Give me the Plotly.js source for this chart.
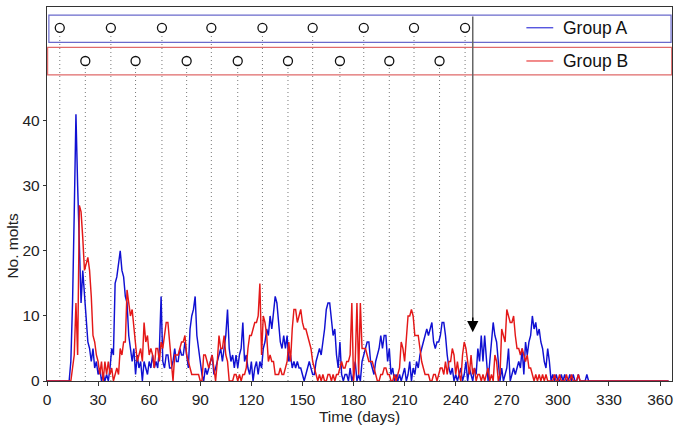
<!DOCTYPE html>
<html>
<head>
<meta charset="utf-8">
<script src="https://cdn.plot.ly/plotly-3.0.1.min.js"></script>
<style>html,body{margin:0;padding:0;background:#fff;}#chart{width:683px;height:433px;}</style>
</head>
<body>
<div id="chart"></div>
<script>
// Daily molt counts, day 0 .. 365
const groupA = [
  0,0,0,0,0,0,0,0,0,0,
  0,0,0,0,3,12,26,41,30,20,
  12,17,13,9,6,5,3,5,2,3,
  1,2,0,1,0,1,0,2,5,4,
  15,16,18,20,17,16,13,12,7,5,
  3,5,1,4,2,3,0,3,2,1,
  3,2,4,2,3,2,5,13,3,2,
  4,4,2,2,3,5,3,3,5,4,
  4,6,4,2,8,10,11,13,7,5,
  3,1,0,2,1,2,3,4,1,2,
  3,4,5,3,5,7,11,5,3,4,
  2,4,2,4,5,9,3,4,2,1,
  3,0,2,3,1,3,2,5,6,8,
  7,10,8,11,13,12,9,6,5,7,
  5,7,3,4,2,3,2,3,2,2,
  1,0,1,2,3,2,1,1,3,4,
  5,4,6,8,11,12,12,9,7,8,
  4,2,6,1,0,1,1,0,2,0,
  1,3,0,1,0,3,4,5,6,6,
  3,2,1,3,4,5,7,5,7,7,
  3,5,1,2,0,1,0,1,0,1,
  2,0,1,3,0,2,1,3,2,4,
  5,6,7,8,7,8,9,6,5,6,
  6,7,9,9,7,4,2,1,2,0,
  1,0,1,2,0,1,3,0,2,1,
  0,2,1,5,3,7,3,7,3,0,
  3,6,9,7,6,3,0,2,0,1,
  2,5,0,1,2,1,2,3,2,5,
  1,6,4,6,7,10,8,9,7,8,
  6,5,3,2,5,3,0,1,0,1,
  0,0,1,0,1,0,0,1,0,1,
  0,0,1,0,0,0,0,1,0,0,
  0,0,0,0,0,0,0,0,0,0,
  0,0,0,0,0,0,0,0,0,0,
  0,0,0,0,0,0,0,0,0,0,
  0,0,0,0,0,0,0,0,0,0,
  0,0,0,0,0,0
];
const groupB = [
  0,0,0,0,0,0,0,0,0,0,
  0,0,0,0,0,2,4,12,4,27,
  26,22,17,18,19,17,13,7,6,4,
  3,1,3,0,3,1,3,1,2,0,
  1,2,1,5,4,6,6,14,12,10,
  11,8,6,3,4,5,3,9,6,7,
  4,5,4,2,5,5,3,6,5,7,
  9,9,6,4,0,4,4,4,5,6,
  6,7,4,3,2,1,1,1,1,1,
  0,0,4,4,3,2,3,4,2,0,
  3,7,5,5,7,4,3,0,0,0,
  1,1,0,1,0,1,1,2,5,7,
  7,8,9,9,10,15,4,10,9,7,
  3,4,3,3,1,1,1,2,1,1,
  2,3,6,3,8,11,11,9,10,11,
  9,8,8,7,6,5,3,2,1,0,
  1,0,1,0,0,1,1,0,1,0,
  1,1,2,3,2,2,3,3,4,12,
  0,3,12,1,12,5,5,5,4,3,
  3,3,2,1,0,0,1,1,2,2,
  1,1,0,0,1,0,1,2,6,5,
  3,6,10,10,11,10,7,7,7,5,
  3,2,1,1,1,0,0,1,1,0,
  1,2,2,1,3,1,3,3,5,4,
  1,3,1,0,4,6,5,3,1,4,
  1,2,0,1,1,0,1,0,1,2,
  0,1,0,4,3,0,1,8,7,6,
  11,10,9,9,10,7,5,5,4,5,
  4,3,4,2,2,1,0,1,0,1,
  0,1,0,1,0,0,0,0,1,0,
  0,1,0,0,0,1,0,0,1,0,
  0,0,1,0,0,0,0,0,0,0,
  0,0,0,0,0,0,0,0,0,0,
  0,0,0,0,0,0,0,0,0,0,
  0,0,0,0,0,0,0,0,0,0,
  0,0,0,0,0,0,0,0,0,0,
  0,0,0,0,0,0
];
const startDay = 0;
// Event days (open circles)
const eventsA = [7.5, 37.5, 67.5, 96.5, 126.5, 156, 186, 215.5, 245.5];
const eventsB = [22.5, 52, 82, 112, 141.5, 172, 201, 230.5];
const arrowDay = 250;
const xTicks = [0, 30, 60, 90, 120, 150, 180, 210, 240, 270, 300, 330, 360];
const yTicks = [0, 10, 20, 30, 40];
const seriesNames = ['Group A', 'Group B'];

// layout constants
const rowA = 54.3, rowB = 49.2;
const boxA = [52.05, 56.26], boxB = [47.08, 51.28];
const colA = '#1010d2', colB = '#e41818';
const FONT = 'Liberation Sans, Arial, sans-serif';

function dropLines(days, top) {
  const xs = [], ys = [];
  days.forEach(d => { xs.push(d, d, null); ys.push(0, top, null); });
  return {x: xs, y: ys};
}
const dlA = dropLines(eventsA, rowA - 0.85);
const dlB = dropLines(eventsB, rowB - 0.85);

const traces = [
  {x: dlA.x, y: dlA.y, mode: 'lines', line: {color: '#777', width: 1, dash: '1px,3px'}, hoverinfo: 'skip', showlegend: false},
  {x: dlB.x, y: dlB.y, mode: 'lines', line: {color: '#777', width: 1, dash: '1px,3px'}, hoverinfo: 'skip', showlegend: false},
  {y: groupA, x0: startDay, dx: 1, mode: 'lines', name: seriesNames[0], line: {color: colA, width: 1.45}, showlegend: false},
  {y: groupB, x0: startDay, dx: 1, mode: 'lines', name: seriesNames[1], line: {color: colB, width: 1.45}, showlegend: false},
  {x: eventsA, y: eventsA.map(() => rowA), mode: 'markers', marker: {symbol: 'circle-open', size: 9, color: '#111', line: {width: 1.3}}, showlegend: false},
  {x: eventsB, y: eventsB.map(() => rowB), mode: 'markers', marker: {symbol: 'circle-open', size: 9, color: '#111', line: {width: 1.3}}, showlegend: false}
];

const layout = {
  width: 683, height: 433,
  margin: {l: 47, r: 11, t: 7, b: 52},
  paper_bgcolor: '#fff', plot_bgcolor: '#fff',
  font: {family: FONT, size: 15.5, color: '#222'},
  xaxis: {
    range: [0, 367], tickvals: xTicks, ticktext: xTicks.map(String),
    ticks: 'outside', ticklen: 4, tickcolor: '#333',
    showline: true, mirror: true, linecolor: '#333', linewidth: 1.2,
    showgrid: false, zeroline: false,
    tickfont: {family: FONT, size: 15.5, color: '#222'},
    title: {text: 'Time (days)', font: {family: FONT, size: 15.5, color: '#222'}, standoff: 1}
  },
  yaxis: {
    range: [0, 57.5], tickvals: yTicks, ticktext: yTicks.map(String),
    ticks: 'outside', ticklen: 3, tickcolor: '#333',
    showline: true, mirror: true, linecolor: '#333', linewidth: 1.2,
    showgrid: false, zeroline: false,
    tickfont: {family: FONT, size: 15.5, color: '#222'}
  },
  shapes: [
    {type: 'rect', xref: 'paper', yref: 'y', x0: 0.003, x1: 0.9985, y0: boxA[0], y1: boxA[1], line: {color: '#6a6acc', width: 1.2}, fillcolor: 'rgba(0,0,0,0)', layer: 'below'},
    {type: 'rect', xref: 'paper', yref: 'y', x0: 0.001, x1: 0.9995, y0: boxB[0], y1: boxB[1], line: {color: '#e06a6a', width: 1.2}, fillcolor: 'rgba(0,0,0,0)', layer: 'below'},
    {type: 'line', xref: 'paper', yref: 'y', x0: 0.767, x1: 0.810, y0: rowA, y1: rowA, line: {color: colA, width: 1}},
    {type: 'line', xref: 'paper', yref: 'y', x0: 0.767, x1: 0.810, y0: rowB, y1: rowB, line: {color: colB, width: 1}}
  ],
  annotations: [
    {xref: 'paper', yref: 'y', x: 0.823, y: rowA, xanchor: 'left', yanchor: 'middle', text: seriesNames[0], showarrow: false, font: {family: FONT, size: 17.5, color: '#111'}},
    {xref: 'paper', yref: 'y', x: 0.823, y: rowB, xanchor: 'left', yanchor: 'middle', text: seriesNames[1], showarrow: false, font: {family: FONT, size: 17.5, color: '#111'}},
    {xref: 'paper', yref: 'paper', x: -0.055, y: 0.361, text: 'No. molts', textangle: -90, showarrow: false, xanchor: 'center', yanchor: 'middle', font: {family: FONT, size: 15.5, color: '#222'}},
    {xref: 'x', yref: 'y', axref: 'x', ayref: 'y', x: arrowDay, y: 9.0, ax: arrowDay, ay: boxA[1], text: '', showarrow: true, arrowhead: 0, arrowwidth: 1.5, arrowcolor: '#666'},
    {xref: 'x', yref: 'y', axref: 'x', ayref: 'y', x: arrowDay, y: 7.5, ax: arrowDay, ay: 10.0, text: '', showarrow: true, arrowhead: 2, arrowsize: 1.5, arrowwidth: 1.5, arrowcolor: '#000'}
  ]
};

Plotly.newPlot('chart', traces, layout, {displayModeBar: false, staticPlot: true});
</script>
</body>
</html>
